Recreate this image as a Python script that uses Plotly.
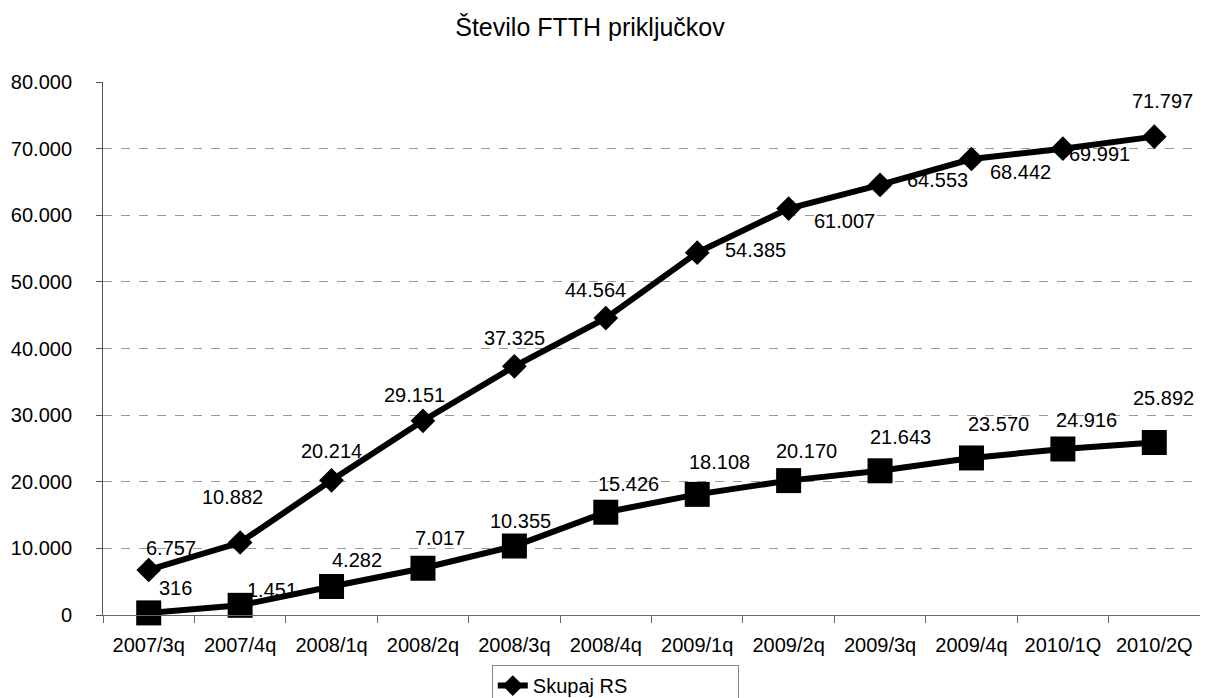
import plotly.graph_objects as go

categories = ["2007/3q", "2007/4q", "2008/1q", "2008/2q", "2008/3q", "2008/4q",
              "2009/1q", "2009/2q", "2009/3q", "2009/4q", "2010/1Q", "2010/2Q"]
skupaj_rs = [6757, 10882, 20214, 29151, 37325, 44564, 54385, 61007, 64553, 68442, 69991, 71797]
second_series = [316, 1451, 4282, 7017, 10355, 15426, 18108, 20170, 21643, 23570, 24916, 25892]
y_ticks = [0, 10000, 20000, 30000, 40000, 50000, 60000, 70000, 80000]

# label pixel offsets (style only): (dx, dy) with dy positive = downward
offs_a = [(22, -22), (-8, -46), (0, -29), (-8, -26), (0, -28), (-10, -28),
          (58, -3), (56, 12), (57, -5), (49, 13), (37, 5), (8, -36)]
offs_b = [(27, -25), (32, -15), (25, -26), (17, -30), (6, -25), (23, -28),
          (22, -32), (18, -30), (20, -34), (27, -34), (24, -29), (9, -44)]

FONT = "Liberation Sans, Arial, sans-serif"


def fmt(v):
    return f"{v:,}".replace(",", ".")


fig = go.Figure()
fig.add_trace(go.Scatter(
    x=categories, y=skupaj_rs, name="Skupaj RS", mode="lines+markers",
    line=dict(color="black", width=6),
    marker=dict(symbol="diamond", size=19, color="black"),
    cliponaxis=False,
))
fig.add_trace(go.Scatter(
    x=categories, y=second_series, name="", mode="lines+markers",
    line=dict(color="black", width=6),
    marker=dict(symbol="square", size=25, color="black"),
    showlegend=False, cliponaxis=False,
))

annotations = []
for series, offs in ((skupaj_rs, offs_a), (second_series, offs_b)):
    for cat, v, (dx, dy) in zip(categories, series, offs):
        annotations.append(dict(
            x=cat, y=v, xref="x", yref="y", text=fmt(v), showarrow=False,
            xanchor="center", yanchor="middle", xshift=dx, yshift=-dy,
            font=dict(size=20, color="black", family=FONT),
        ))

fig.update_layout(
    width=1200, height=690,
    paper_bgcolor="white", plot_bgcolor="white",
    font=dict(family=FONT, color="black", size=20),
    title=dict(text="Število FTTH priključkov", x=0.485, xanchor="center",
               y=0.972, yanchor="middle", font=dict(size=25)),
    margin=dict(l=95, r=8, t=74, b=83, autoexpand=False),
    showlegend=True,
    legend=dict(orientation="h", x=0.467, xanchor="center", y=-0.094, yanchor="top",
                bordercolor="#888", borderwidth=1, font=dict(size=20),
                entrywidth=200, entrywidthmode="pixels"),
    annotations=annotations,
)
fig.update_xaxes(
    type="category", range=[-0.5, 11.5], showgrid=False,
    showline=True, linecolor="#666", linewidth=1,
    ticks="outside", ticklen=7, tickcolor="#666", tickson="boundaries",
    tickfont=dict(size=20), ticklabelstandoff=12, zeroline=False,
)
fig.update_yaxes(
    range=[0, 80000], tickvals=y_ticks, ticktext=[fmt(v) for v in y_ticks],
    showgrid=True, gridcolor="#999", griddash="dash", gridwidth=1,
    showline=True, linecolor="#555", linewidth=1,
    ticks="outside", ticklen=6, tickcolor="#555", tickfont=dict(size=20),
    ticklabelstandoff=20, zeroline=False,
)

fig.write_html("out.html")
